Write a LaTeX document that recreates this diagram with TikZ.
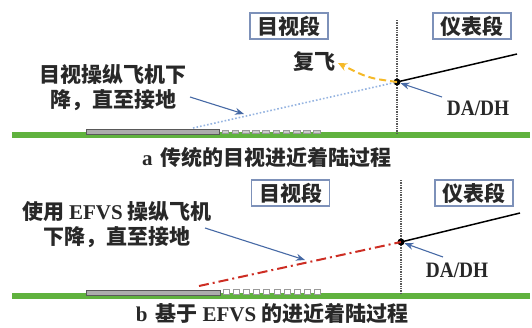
\documentclass[tikz,border=0pt]{standalone}
\usepackage{fontspec}
\setmainfont{Liberation Serif}
\newfontfamily\cjk{Noto Sans CJK SC}
\newfontfamily\dadhfont{Liberation Serif Bold}[FakeStretch=0.88]
\usetikzlibrary{arrows.meta}
\definecolor{grn}{RGB}{96,178,62}
\definecolor{boxc}{RGB}{125,145,185}
\definecolor{arrc}{RGB}{70,105,165}
\definecolor{org}{RGB}{245,185,40}
\definecolor{redd}{RGB}{205,45,35}
\definecolor{lblue}{RGB}{150,180,225}
\definecolor{txt}{RGB}{40,40,40}
\tikzset{
  lbl/.style={font=\cjk\bfseries\fontsize{21}{25}\selectfont, align=center, text=txt, inner sep=0pt},
  segbox/.style={draw=boxc, line width=1.3pt, fill=white, inner sep=0pt, minimum width=78pt, minimum height=26pt, font=\cjk\bfseries\fontsize{21}{25}\selectfont, text=txt},
  ground/.style={grn, line width=6pt},
  runway/.style={draw=black!65, fill=gray!65, line width=0.8pt},
  tiles/.style={draw=gray!80, line width=0.8pt, fill=gray!40},
  divider/.style={gray!70!black, line width=1.4pt, densely dotted},
  pointer/.style={arrc, line width=1.1pt, -{Stealth[length=9pt,width=7pt]}},
  dadh/.style={font=\dadhfont\fontsize{22}{24}\selectfont, text=txt, inner sep=0pt},
  path1/.style={black, line width=1.5pt},
  dot/.style={circle, fill=black, inner sep=0pt, minimum size=7pt},
}
\begin{document}
\begin{tikzpicture}[x=1pt,y=-1pt]
\useasboundingbox (0,0) rectangle (532,327);
% ===== top panel =====
\draw[ground] (12,135) -- (530,135);
\draw[runway] (86,129) rectangle (219,134);
\foreach \i in {0,...,9} {\draw[tiles] (222+10.2*\i,130.5) rectangle (228.5+10.2*\i,133.5);}
\draw[divider] (397,20) -- (397,133);
\node[segbox] (vis1) at (289,26) {目视段};
\node[segbox] (ins1) at (472,26) {仪表段};
\coordinate (g1) at (193,128);
\node[dot] (p1) at (397,82) {};
\coordinate (e1) at (517,54);
\draw[lblue, line width=1.6pt, dotted] (g1) -- (p1.center);
\draw[path1] (p1.center) -- (e1);
\node[lbl] (ga) at (314,62) {复飞};
\coordinate (gah) at (338,63);
\draw[org, line width=2pt, dashed, dash pattern=on 7pt off 4pt, -{Stealth[length=9pt,width=8pt]}] (p1.center) .. controls (368,78) .. (gah);
\node[lbl] (t1) at (113,87.5) {目视操纵飞机下\\降，直至接地};
\coordinate (a1s) at (190,97);
\coordinate (a1e) at (244,114);
\draw[pointer] (a1s) -- (a1e);
\node[dadh] (d1) at (478,108) {DA/DH};
\coordinate (d1s) at (442,97);
\draw[pointer] (d1s) -- (p1);
\node[lbl] (cap1) at (267,157) {{\rmfamily\bfseries a}\, 传统的目视进近着陆过程};
% ===== bottom panel =====
\draw[ground] (12,296) -- (530,296);
\draw[runway] (86,290) rectangle (220,295);
\foreach \i in {0,...,9} {\draw[draw=gray!80, line width=0.8pt, fill=white] (223+10.2*\i,289.5) rectangle (229+10.2*\i,294);}
\draw[divider] (401,180) -- (401,293);
\node[segbox] (vis2) at (290.5,193) {目视段};
\node[segbox] (ins2) at (474,193) {仪表段};
\coordinate (g2) at (199,286);
\node[dot] (p2) at (401,242) {};
\coordinate (e2) at (520,213);
\draw[redd, line width=2pt, dash pattern=on 10pt off 4pt on 2pt off 4pt] (g2) -- (p2.center);
\draw[path1] (p2.center) -- (e2);
\node[lbl] (t2) at (117,224.5) {使用 {\rmfamily\bfseries EFVS} 操纵飞机\\下降，直至接地};
\coordinate (a2s) at (205,228);
\coordinate (a2e) at (305,260);
\draw[pointer] (a2s) -- (a2e);
\node[dadh] (d2) at (457,270) {DA/DH};
\coordinate (d2s) at (443,257);
\draw[pointer] (d2s) -- (p2);
\node[lbl] (cap2) at (272,313.5) {{\rmfamily\bfseries b}\, 基于 {\rmfamily\bfseries EFVS} 的进近着陆过程};
\end{tikzpicture}
\end{document}
